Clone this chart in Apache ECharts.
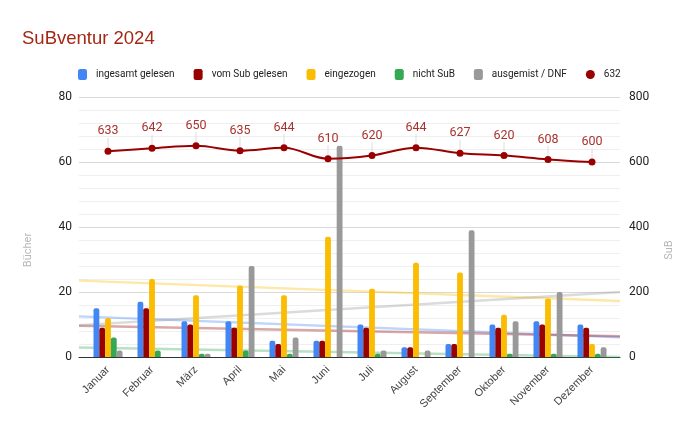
<!DOCTYPE html>
<html>
<head>
<meta charset="utf-8">
<script src="https://cdn.jsdelivr.net/npm/echarts@6/dist/echarts.min.js"></script>
<style>html,body{margin:0;padding:0;background:#fff}#c{width:700px;height:432px}</style>
</head>
<body>
<div id="c"></div>
<script>
const months = ['Januar','Februar','März','April','Mai','Juni','Juli','August','September','Oktober','November','Dezember'];
const gelesen    = [15,17,11,11,5,5,10,3,4,10,11,10];
const vomSub     = [9,15,10,9,4,5,9,3,4,9,10,9];
const eingezogen = [12,24,19,22,19,37,21,29,26,13,18,4];
const nichtSub   = [6,2,1,2,1,0,1,0,0,1,1,1];
const ausgemist  = [2,0,1,28,6,65,2,2,39,11,20,3];
const subStand   = [633,642,650,635,644,610,620,644,627,620,608,600];

// trendline values read at the left and right edge of the plot
const trendGelesen    = [12.5, 6.1];
const trendVomSub     = [9.6, 6.4];
const trendEingezogen = [23.5, 17.2];
const trendNichtSub   = [2.9, 0];
const trendAusgemist  = [9.8, 20.0];

const leftTicks  = [0, 80, 20];
const rightTicks = [0, 800, 200];

const names = ['ingesamt gelesen','vom Sub gelesen','eingezogen','nicht SuB','ausgemist / DNF','632'];
const colors = ['#4285f4','#990000','#fbbc04','#34a853','#999999','#990000'];
const barData = [gelesen, vomSub, eingezogen, nichtSub, ausgemist];
const trends = [trendGelesen, trendVomSub, trendEingezogen, trendNichtSub, trendAusgemist];

const chart = echarts.init(document.getElementById('c'), null, {renderer:'canvas'});

const series = [];
trends.forEach((t, i) => {
  series.push({
    type:'line', name:'trend'+i, xAxisIndex:0, yAxisIndex:0,
    data:[[0, t[0]],[1, t[1]]], showSymbol:false, silent:true, z:1,
    lineStyle:{color:colors[i], width:2.5, opacity:0.35}
  });
});
barData.forEach((d, i) => {
  series.push({
    type:'bar', name:names[i], xAxisIndex:1, yAxisIndex:2, data:d,
    barWidth:5.8, barGap:'0%', z:3,
    itemStyle:{color:colors[i], borderRadius:[2,2,0,0]}
  });
});
series.push({
  type:'line', name:names[5], xAxisIndex:1, yAxisIndex:3, data:subStand,
  smooth:0.35, symbol:'circle', symbolSize:7, z:5,
  itemStyle:{color:'#990000'}, lineStyle:{color:'#990000', width:2},
  label:{show:true, position:'top', distance:4, color:'#a8322d', fontSize:12.5, fontFamily:'Roboto'},
  labelLayout:{dy:-6},
  labelLine:{show:true, lineStyle:{color:'#dddddd', width:1}}
});

chart.setOption({
  animation:false,
  textStyle:{fontFamily:'Roboto'},
  title:{text:'SuBventur 2024', left:17, top:24,
    textStyle:{color:'#a52714', fontSize:18.5, fontWeight:'normal', fontFamily:'Liberation Sans'}},
  legend:{
    data:names.map((n,i)=>({name:n, icon: i===5 ? 'circle' : 'roundRect'})),
    left:73, top:64, itemWidth:9, itemHeight:11, itemGap:19,
    textStyle:{fontSize:10, color:'#222', padding:[0,0,0,4]}
  },
  grid:[
    {left:79, right:80, top:97, bottom:75},
    {left:86, right:86, top:97, bottom:75}
  ],
  xAxis:[
    {gridIndex:0, type:'value', min:0, max:1, axisLabel:{show:false}, axisTick:{show:false},
     splitLine:{show:false}, axisLine:{show:true, onZero:false, lineStyle:{color:'#333', width:1}}},
    {gridIndex:1, type:'category', data:months, axisLine:{show:false}, axisTick:{show:false},
     axisLabel:{rotate:45, interval:0, fontSize:11, color:'#444', fontFamily:'Liberation Sans', margin:11,
       padding:[30,0,0,0]}}
  ],
  yAxis:[
    {gridIndex:0, type:'value', min:leftTicks[0], max:leftTicks[1], interval:leftTicks[2], position:'left',
     axisLine:{show:false}, axisTick:{show:false},
     axisLabel:{fontSize:12, color:'#222', margin:7},
     splitLine:{lineStyle:{color:'#d9d9d9'}},
     minorTick:{show:false, splitNumber:5},
     minorSplitLine:{show:true, lineStyle:{color:'#efefef'}}},
    {gridIndex:0, type:'value', min:rightTicks[0], max:rightTicks[1], interval:rightTicks[2], position:'right',
     axisLine:{show:false}, axisTick:{show:false}, splitLine:{show:false},
     axisLabel:{fontSize:12, color:'#222', margin:9}},
    {gridIndex:1, type:'value', min:leftTicks[0], max:leftTicks[1], show:false},
    {gridIndex:1, type:'value', min:rightTicks[0], max:rightTicks[1], show:false}
  ],
  graphic:[
    {type:'text', x:28, y:250, rotation:Math.PI/2,
     style:{text:'Bücher', align:'center', verticalAlign:'middle', fill:'#b7b7b7', font:'11px Roboto'}},
    {type:'text', x:669, y:250, rotation:Math.PI/2,
     style:{text:'SuB', align:'center', verticalAlign:'middle', fill:'#b7b7b7', font:'11px Roboto'}}
  ],
  series:series
});
</script>
</body>
</html>
